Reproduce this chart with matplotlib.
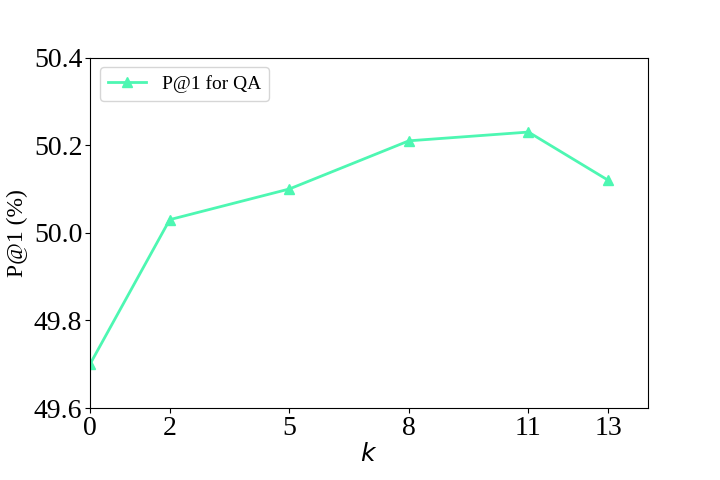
import matplotlib
matplotlib.use("Agg")
import matplotlib.pyplot as plt

k_values = [0, 2, 5, 8, 11, 13]
p_at_1 = [49.70, 50.03, 50.10, 50.21, 50.23, 50.12]
series_label = "P@1 for QA"
y_ticks = [49.6, 49.8, 50.0, 50.2, 50.4]

plt.rcParams['font.family'] = ['Liberation Serif', 'DejaVu Serif']
plt.rcParams['mathtext.fontset'] = 'dejavusans'

fig, ax = plt.subplots(figsize=(7.2, 4.8), dpi=100)
fig.subplots_adjust(left=0.125, right=0.9, bottom=0.15, top=0.88)

ax.plot(k_values, p_at_1, color='#4DF7B2', marker='^', markersize=7, linewidth=2, label=series_label)
ax.set_xlim(0, 14)
ax.set_ylim(49.6, 50.4)
ax.set_xticks(k_values)
ax.set_yticks(y_ticks)
ax.set_yticklabels([f"{v:.1f}" for v in y_ticks])
ax.tick_params(labelsize=20, pad=2)
ax.set_xlabel(r'$k$', fontsize=18, labelpad=2)
ax.set_ylabel('P@1 (%)', fontsize=17)
ax.legend(loc='upper left', fontsize=14)

fig.savefig('out.png', dpi=100)
